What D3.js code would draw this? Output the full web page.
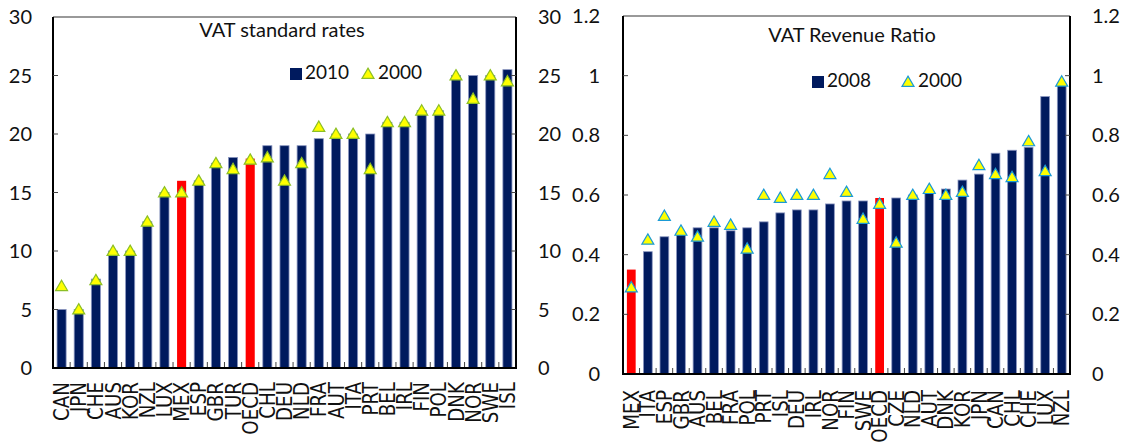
<!DOCTYPE html>
<html>
<head>
<meta charset="utf-8">
<script src="https://cdn.jsdelivr.net/npm/d3@7"></script>
<style>
  body { margin: 0; background: #fff; }
  svg { display: block; }
  .tick-label { font-family: Lato, "Open Sans", sans-serif; font-size: 20px; fill: #111; }
  .cat-label { font-family: "DejaVu Sans", sans-serif; font-size: 21px; fill: #111; }
  .title { font-family: Lato, "Open Sans", sans-serif; font-size: 20px; fill: #111; }
  .legend { font-family: Lato, "Open Sans", sans-serif; font-size: 19px; fill: #111; }
</style>
</head>
<body>
<div id="chart"></div>
<script>
// left panel: VAT standard rates
var ratesCountries = ["CAN","JPN","CHE","AUS","KOR","NZL","LUX","MEX","ESP","GBR","TUR","OECD","CHL","DEU","NLD","FRA","AUT","ITA","PRT","BEL","IRL","FIN","POL","DNK","NOR","SWE","ISL"];
var rates2010 = [5,5,7.6,10,10,12.5,15,16,16,17.5,18,17.9,19,19,19,19.6,20,20,20,21,21,22,22,25,25,25,25.5];
var rates2000 = [7,5,7.5,10,10,12.5,15,15,16,17.5,17,17.8,18,16,17.5,20.6,20,20,17,21,21,22,22,25,23,25,24.5];
var ratesTicks = [0,5,10,15,20,25,30];

// right panel: VAT revenue ratio
var vrrCountries = ["MEX","ITA","ESP","GBR","AUS","BEL","FRA","POL","PRT","ISL","DEU","IRL","NOR","FIN","SWE","OECD","CZE","NLD","AUT","DNK","KOR","JPN","CAN","CHL","CHE","LUX","NZL"];
var vrr2008 = [0.35,0.41,0.46,0.47,0.49,0.49,0.48,0.49,0.51,0.54,0.55,0.55,0.57,0.58,0.58,0.59,0.59,0.60,0.61,0.62,0.65,0.67,0.74,0.75,0.76,0.93,0.97];
var vrr2000 = [0.29,0.45,0.53,0.48,0.46,0.51,0.50,0.42,0.60,0.59,0.60,0.60,0.67,0.61,0.52,0.57,0.44,0.60,0.62,0.60,0.61,0.70,0.67,0.66,0.78,0.68,0.98];
var vrrTicks = [0,0.2,0.4,0.6,0.8,1,1.2];
var vrrTickLabels = ["0","0.2","0.4","0.6","0.8","1","1.2"];

var width = 1123, height = 443;
var navy = "#001a5e", red = "#ff0000", yellow = "#ffff00";

var svg = d3.select("#chart").append("svg")
    .attr("width", width)
    .attr("height", height);

function drawPanel(opt) {
    var g = svg.append("g");
    var x = d3.scaleBand()
        .domain(opt.cats)
        .range([opt.left, opt.right])
        .paddingInner(0.47)
        .paddingOuter(0.235);
    var y = d3.scaleLinear()
        .domain([0, opt.max])
        .range([opt.bottom, opt.top]);
    var step = x.step();

    // bars
    g.selectAll(".bar")
        .data(opt.cats)
        .enter().append("rect")
        .attr("x", function (d) { return x(d); })
        .attr("width", x.bandwidth())
        .attr("y", function (d, i) { return y(opt.bars[i]); })
        .attr("height", function (d, i) { return y(0) - y(opt.bars[i]); })
        .attr("fill", function (d) { return opt.red.indexOf(d) >= 0 ? red : navy; })
        .attr("stroke", function (d) { return opt.red.indexOf(d) >= 0 ? "none" : "#8a96c0"; })
        .attr("stroke-width", 0.8);

    // triangles
    var tri = d3.symbol().type(d3.symbolTriangle).size(62);
    g.selectAll(".tri")
        .data(opt.cats)
        .enter().append("path")
        .attr("d", tri)
        .attr("transform", function (d, i) {
            return "translate(" + (x(d) + x.bandwidth() / 2) + "," + (y(opt.marks[i]) + 1) + ")";
        })
        .attr("fill", yellow)
        .attr("stroke", opt.triStroke)
        .attr("stroke-width", 1.2);

    // frame: top grey, others black
    g.append("line").attr("x1", opt.left).attr("x2", opt.right)
        .attr("y1", opt.top).attr("y2", opt.top)
        .attr("stroke", "#777").attr("stroke-width", 1.5);
    g.append("line").attr("x1", opt.left).attr("x2", opt.left)
        .attr("y1", opt.top).attr("y2", opt.bottom)
        .attr("stroke", "#000").attr("stroke-width", 2);
    g.append("line").attr("x1", opt.right).attr("x2", opt.right)
        .attr("y1", opt.top).attr("y2", opt.bottom)
        .attr("stroke", "#000").attr("stroke-width", 2);

    // y ticks inward on both sides
    opt.ticks.forEach(function (t, i) {
        if (i > 0 && i < opt.ticks.length - 1) {
            g.append("line").attr("x1", opt.left).attr("x2", opt.left + 5)
                .attr("y1", y(t)).attr("y2", y(t)).attr("stroke", "#444");
            g.append("line").attr("x1", opt.right).attr("x2", opt.right - 5)
                .attr("y1", y(t)).attr("y2", y(t)).attr("stroke", "#444");
        }
        g.append("text").attr("class", "tick-label")
            .attr("x", opt.leftLabelX).attr("y", y(t))
            .attr("dy", "0.35em").attr("text-anchor", "end")
            .text(opt.tickLabels[i]);
        g.append("text").attr("class", "tick-label")
            .attr("x", opt.rightLabelX).attr("y", y(t))
            .attr("dy", "0.35em").attr("text-anchor", "start")
            .text(opt.tickLabels[i]);
    });

    // x ticks between bars
    opt.cats.forEach(function (d, i) {
        if (i === 0) return;
        var xt = x(d) + x.bandwidth() / 2 - step / 2;
        g.append("line").attr("x1", xt).attr("x2", xt)
            .attr("y1", opt.bottom).attr("y2", opt.bottom - 6)
            .attr("stroke", "#444");
    });

    g.append("line").attr("x1", opt.left - 1).attr("x2", opt.right + 1)
        .attr("y1", opt.bottom).attr("y2", opt.bottom)
        .attr("stroke", "#000").attr("stroke-width", 2.2);

    // category labels, rotated and a bit condensed
    g.selectAll(".cat-label")
        .data(opt.cats)
        .enter().append("text")
        .attr("class", "cat-label")
        .attr("text-anchor", "end")
        .attr("transform", function (d) {
            return "translate(" + (x(d) + x.bandwidth() / 2) + "," + opt.labelTop + ") rotate(-90) scale(0.87,1)";
        })
        .attr("dy", "0.36em")
        .text(function (d) { return d; });

    // title
    g.append("text").attr("class", "title")
        .attr("x", opt.titleX).attr("y", opt.titleY)
        .attr("text-anchor", "middle")
        .text(opt.title);

    // legend
    g.append("rect").attr("x", opt.legX).attr("y", opt.legY - 11)
        .attr("width", 12).attr("height", 12).attr("fill", navy);
    g.append("text").attr("class", "legend")
        .attr("x", opt.legX + 15).attr("y", opt.legY).text(opt.barName);
    g.append("path").attr("d", tri)
        .attr("transform", "translate(" + (opt.legX + opt.triOffset) + "," + (opt.legY - 4) + ")")
        .attr("fill", yellow).attr("stroke", opt.triStroke).attr("stroke-width", 1.2);
    g.append("text").attr("class", "legend")
        .attr("x", opt.legX + opt.triOffset + 10).attr("y", opt.legY).text("2000");
}

drawPanel({
    cats: ratesCountries, bars: rates2010, marks: rates2000,
    ticks: ratesTicks, tickLabels: ratesTicks.map(String), max: 30,
    left: 53, right: 516, top: 17, bottom: 368,
    leftLabelX: 32, rightLabelX: 538, labelTop: 382,
    red: ["MEX", "OECD"], triStroke: "#8cbf26",
    title: "VAT standard rates", titleX: 282, titleY: 37,
    barName: "2010", legX: 290, legY: 79, triOffset: 78
});

drawPanel({
    cats: vrrCountries, bars: vrr2008, marks: vrr2000,
    ticks: vrrTicks, tickLabels: vrrTickLabels, max: 1.2,
    left: 623, right: 1070, top: 16, bottom: 374,
    leftLabelX: 600, rightLabelX: 1092, labelTop: 390,
    red: ["MEX", "OECD"], triStroke: "#1a9ad6",
    title: "VAT Revenue Ratio", titleX: 852, titleY: 42,
    barName: "2008", legX: 812, legY: 87, triOffset: 96
});
</script>
</body>
</html>
